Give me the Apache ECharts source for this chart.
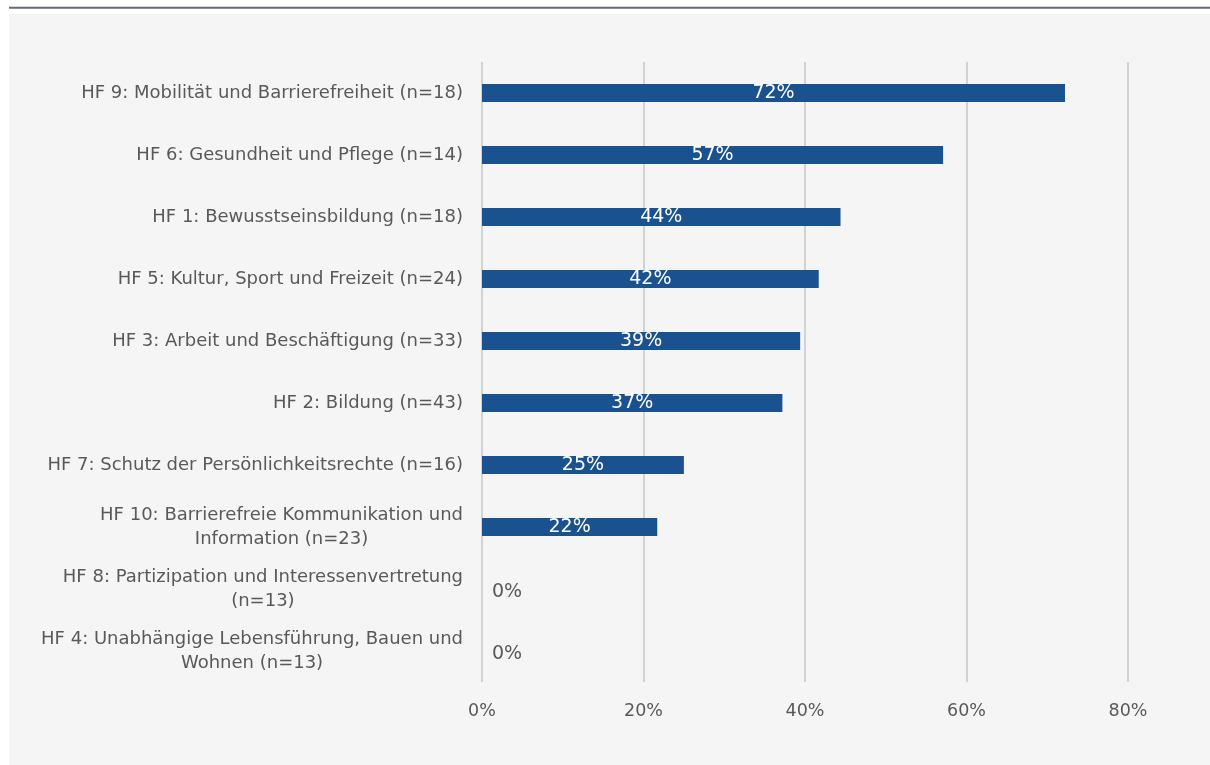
<!DOCTYPE html>
<html>
<head>
<meta charset="utf-8">
<script src="https://cdn.jsdelivr.net/npm/echarts@6/dist/echarts.min.js"></script>
<style>
html,body{margin:0;padding:0;background:#ffffff;}
#chart{width:1210px;height:765px;}
</style>
</head>
<body>
<div id="chart"></div>
<script>
const categories = [
  "HF 9: Mobilität und Barrierefreiheit (n=18)",
  "HF 6: Gesundheit und Pflege (n=14)",
  "HF 1: Bewusstseinsbildung (n=18)",
  "HF 5: Kultur, Sport und Freizeit (n=24)",
  "HF 3: Arbeit und Beschäftigung (n=33)",
  "HF 2: Bildung (n=43)",
  "HF 7: Schutz der Persönlichkeitsrechte (n=16)",
  "HF 10: Barrierefreie Kommunikation und\nInformation (n=23)",
  "HF 8: Partizipation und Interessenvertretung\n(n=13)",
  "HF 4: Unabhängige Lebensführung, Bauen und\nWohnen (n=13)"
];
const values = [72.2, 57.1, 44.4, 41.7, 39.4, 37.2, 25.0, 21.7, 0, 0];
const xTicks = [0, 20, 40, 60, 80];

const FONT = "DejaVu Sans";
const chart = echarts.init(document.getElementById('chart'), null, {renderer: 'canvas'});

const seriesData = values.map(v => {
  if (v === 0) {
    return {value: v, label: {position: 'right', distance: 10, color: '#595959', offset: [0, 3]}};
  }
  return {value: v};
});

chart.setOption({
  backgroundColor: '#ffffff',
  animation: false,
  graphic: [
    {type: 'rect', shape: {x: 9, y: 14, width: 1201, height: 751}, style: {fill: '#f5f5f5'}, z: -10, silent: true},
    {type: 'line', shape: {x1: 9, y1: 7.8, x2: 1210, y2: 7.8}, style: {stroke: '#636a72', lineWidth: 2}, z: -10, silent: true}
  ],
  grid: {left: 482, right: 1210 - 1128, top: 62, bottom: 765 - 682, containLabel: false},
  xAxis: {
    type: 'value',
    min: 0, max: 80, interval: 20,
    axisLine: {show: false},
    axisTick: {show: false},
    splitLine: {show: true, lineStyle: {color: '#c6c6c6', width: 1.5}},
    axisLabel: {
      formatter: v => xTicks.includes(v) ? v + '%' : '',
      color: '#595959', fontFamily: FONT, fontSize: 17.5, margin: 20
    }
  },
  yAxis: {
    type: 'category',
    inverse: true,
    data: categories,
    axisLine: {show: false},
    axisTick: {show: false},
    axisLabel: {
      margin: 19,
      color: '#595959',
      fontFamily: FONT,
      fontSize: 18,
      lineHeight: 24,
      formatter: s => s.split('\n').map(l => '{c|' + l + '}').join('\n'),
      rich: {c: {align: 'center', color: '#595959', fontFamily: FONT, fontSize: 18, lineHeight: 24}}
    }
  },
  series: [{
    type: 'bar',
    data: seriesData,
    barWidth: 18,
    itemStyle: {color: '#19528f'},
    label: {
      show: true,
      position: 'inside',
      color: '#ffffff',
      fontFamily: FONT,
      fontSize: 19,
      formatter: p => Math.round(p.value) + '%'
    }
  }]
});
</script>
</body>
</html>
